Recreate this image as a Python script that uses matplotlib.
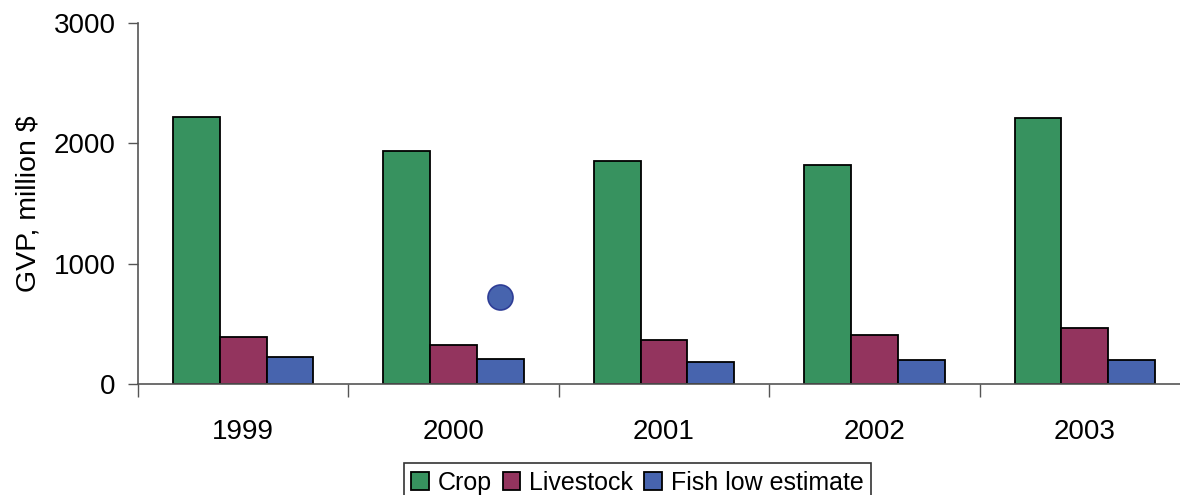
import matplotlib.pyplot as plt
import numpy as np

plt.rcParams['font.family'] = ['Liberation Sans', 'DejaVu Sans']

# Werte (Millionen $)
jahre = ['1999', '2000', '2001', '2002', '2003']
crop = [2217, 1934, 1851, 1823, 2214]
livestock = [388, 322, 366, 407, 463]
fish_low = [224, 210, 185, 197, 197]
# einzelner Punkt ueber dem Fisch-Balken im Jahr 2000
fish_high_jahr = 1
fish_high = 721

fig = plt.figure(figsize=(11.8, 4.95), dpi=100)
ax = fig.add_axes([138 / 1180, 111 / 495, 1052 / 1180, 361 / 495])

x = np.arange(len(jahre))
w = 1 / 4.5  # Excel gap width 150 %

ax.bar(x - w, crop, w, color='#37925f', edgecolor='black', linewidth=1.3, label='Crop')
ax.bar(x, livestock, w, color='#93345e', edgecolor='black', linewidth=1.3, label='Livestock')
ax.bar(x + w, fish_low, w, color='#4764ae', edgecolor='black', linewidth=1.3,
       label='Fish low estimate')
ax.plot(x[fish_high_jahr] + w, fish_high, 'o', markersize=18,
        markerfacecolor='#4764ae', markeredgecolor='#2e3d96', markeredgewidth=1.2)

ax.set_xlim(-0.5, len(jahre) - 0.5)
ax.set_ylim(0, 3000)
ax.set_yticks([0, 1000, 2000, 3000])

# Jahreszahlen mittig, Striche an den Kategoriegrenzen
ax.set_xticks(x)
ax.set_xticklabels(jahre, fontsize=20)
ax.set_xticks(np.arange(-0.5, len(jahre)), minor=True)
ax.tick_params(axis='x', which='major', length=0, pad=25)
ax.tick_params(axis='x', which='minor', length=9, color='#555555', width=1)
ax.tick_params(axis='y', labelsize=20, length=7, color='#555555', width=1, pad=9)

ax.set_ylabel('GVP, million $', fontsize=20.5, labelpad=9)

for s in ['top', 'right']:
    ax.spines[s].set_visible(False)
for s in ['left', 'bottom']:
    ax.spines[s].set_color('#555555')
    ax.spines[s].set_linewidth(1.2)

leg = fig.legend(loc='lower center', bbox_to_anchor=(0.54, -0.015), ncol=3,
                 fontsize=18, frameon=True, fancybox=False, edgecolor='black',
                 handlelength=0.7, handleheight=0.7, handletextpad=0.35,
                 columnspacing=0.45, borderpad=0.3, borderaxespad=0)
leg.get_frame().set_linewidth(1.2)

fig.savefig('out.png', dpi=100)
